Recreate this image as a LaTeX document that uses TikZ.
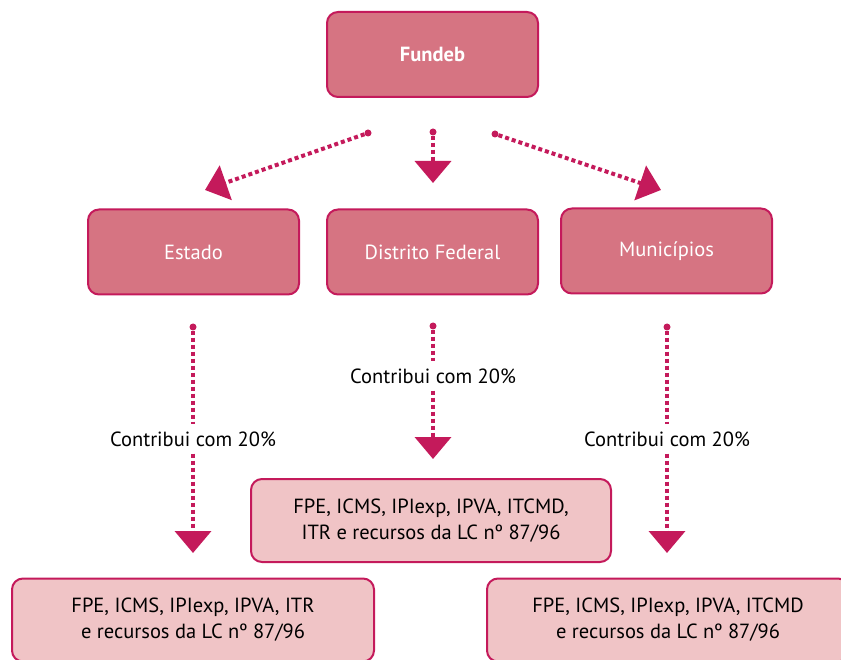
\documentclass[tikz,border=0pt]{standalone}
\usepackage{fontspec}
\setmainfont{PT Sans}
\usetikzlibrary{arrows.meta,positioning}

\definecolor{fundebline}{HTML}{C41A5B}
\definecolor{fundebdark}{HTML}{D67482}
\definecolor{fundeblight}{HTML}{F0C4C6}

\begin{document}
\begin{tikzpicture}[
  x=1pt, y=-1pt,
  font=\fontsize{20.5}{26}\selectfont,
  darkbox/.style={draw=fundebline, fill=fundebdark, line width=2pt, rounded corners=11pt,
    text=white, align=center, minimum width=211pt, minimum height=85pt},
  lightbox/.style={draw=fundebline, fill=fundeblight, line width=2pt, rounded corners=11pt,
    align=center, minimum width=360pt, minimum height=83pt},
  dot/.style={circle, fill=fundebline, inner sep=0pt, minimum size=7pt},
  flow/.style={draw=fundebline, line width=4pt, dash pattern=on 4pt off 3pt},
  arrow/.style={flow, -{Triangle[length=22pt,width=36pt]}},
  note/.style={inner xsep=2pt, inner ysep=7pt}
]
\useasboundingbox (0,0) rectangle (841,660);

% top level
\node[darkbox] (fundeb) at (432.5,54.5) {\textbf{Fundeb}};
\node[darkbox] (estado) at (193.5,252) {Estado};
\node[darkbox] (df) at (432.5,252) {Distrito Federal};
\node[darkbox] (mun) at (666.5,251) {Municípios};

% revenue boxes
\node[lightbox] (dfrec) at (431,520.5) {FPE, ICMS, IPIexp, IPVA, ITCMD,\\ITR e recursos da LC nº 87/96};
\node[lightbox, minimum width=362pt] (estrec) at (193,620) {FPE, ICMS, IPIexp, IPVA, ITR\\e recursos da LC nº 87/96};
\node[lightbox, minimum width=362pt] (munrec) at (668,620) {FPE, ICMS, IPIexp, IPVA, ITCMD\\e recursos da LC nº 87/96};

% Fundeb -> entes
\node[dot] (d1) at (368,133) {};
\node[dot] (d2) at (433,132) {};
\node[dot] (d3) at (495,134) {};
\coordinate (t1) at (205,190);
\coordinate (t2) at (433,183);
\coordinate (t3) at (661,190);
\draw[arrow] (d1) -- (t1);
\draw[arrow] (d2) -- (t2);
\draw[arrow] (d3) -- (t3);

% contributions
\node[dot] (e1) at (193,327) {};
\node[note] (c1) at (193,439) {Contribui com 20\%};
\coordinate (e2) at (193,553);
\draw[flow] (e1) -- (c1);
\draw[arrow] (c1) -- (e2);

\node[dot] (f1) at (433,326) {};
\node[note] (c2) at (433,376) {Contribui com 20\%};
\coordinate (f2) at (433,459);
\draw[flow] (f1) -- (c2);
\draw[arrow] (c2) -- (f2);

\node[dot] (g1) at (667,327) {};
\node[note] (c3) at (667,439) {Contribui com 20\%};
\coordinate (g2) at (667,553);
\draw[flow] (g1) -- (c3);
\draw[arrow] (c3) -- (g2);
\end{tikzpicture}
\end{document}
